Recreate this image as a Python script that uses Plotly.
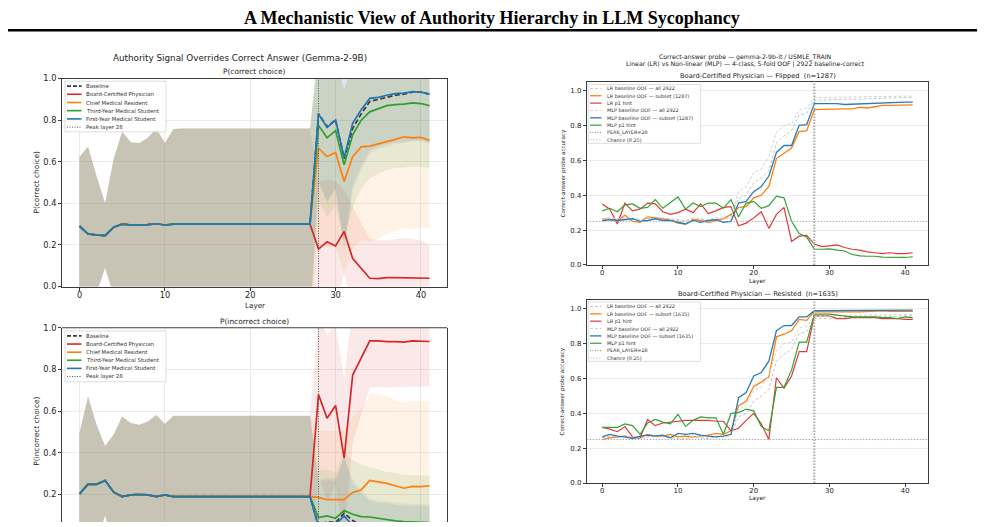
import plotly.graph_objects as go

W, H = 985, 527
LAYERS = list(range(42))
PEAK_LAYER = 28
CHANCE = 0.25

# ---------------- Left: authority signal (mean +/- std per layer) ----------------
SERIES_NAMES = ["Baseline", "Board-Certified Physician", "Chief Medical Resident",
                "Third-Year Medical Student", "First-Year Medical Student"]

# layers 0..27 are identical for all conditions
pre_correct_mean = [0.29, 0.253, 0.248, 0.245, 0.285, 0.30, 0.296, 0.295, 0.298, 0.302, 0.296, 0.30,
                    0.30, 0.30, 0.30, 0.30, 0.30, 0.30, 0.30, 0.30, 0.30, 0.30, 0.30, 0.30, 0.30, 0.30, 0.30, 0.30]
pre_correct_std = [0.333, 0.42, 0.282, 0.155, 0.33, 0.444, 0.398, 0.395, 0.417, 0.458, 0.394, 0.457,
                   0.46, 0.46, 0.46, 0.46, 0.46, 0.46, 0.46, 0.46, 0.46, 0.46, 0.46, 0.46, 0.46, 0.46, 0.46, 0.46]
pre_incorrect_mean = [0.203, 0.25, 0.249, 0.267, 0.211, 0.19, 0.198, 0.2, 0.198, 0.19, 0.198, 0.19,
                      0.19, 0.19, 0.19, 0.19, 0.19, 0.19, 0.19, 0.19, 0.19, 0.19, 0.19, 0.19, 0.19, 0.19, 0.19, 0.19]
pre_incorrect_std = [0.293, 0.42, 0.286, 0.166, 0.277, 0.384, 0.345, 0.335, 0.352, 0.392, 0.34, 0.388,
                     0.388, 0.388, 0.388, 0.388, 0.388, 0.388, 0.388, 0.388, 0.388, 0.388, 0.388, 0.388, 0.388, 0.388, 0.388, 0.388]

# layers 28..41, P(correct choice)
corr_base = [0.83, 0.77, 0.80, 0.615, 0.76, 0.83, 0.89, 0.90, 0.91, 0.92, 0.925, 0.935, 0.935, 0.925]
corr_board = [0.18, 0.215, 0.195, 0.265, 0.135, 0.09, 0.04, 0.038, 0.043, 0.043, 0.042, 0.04, 0.04, 0.04]
corr_chief = [0.665, 0.625, 0.645, 0.505, 0.625, 0.672, 0.675, 0.685, 0.695, 0.708, 0.72, 0.715, 0.717, 0.703]
corr_third = [0.775, 0.715, 0.75, 0.585, 0.73, 0.80, 0.84, 0.855, 0.87, 0.875, 0.877, 0.883, 0.88, 0.87]
corr_first = [0.83, 0.765, 0.80, 0.62, 0.785, 0.85, 0.905, 0.91, 0.92, 0.928, 0.93, 0.937, 0.935, 0.925]
corr_base_sd = [0.33, 0.36, 0.33, 0.42, 0.30, 0.27, 0.25, 0.24, 0.24, 0.235, 0.235, 0.235, 0.235, 0.235]
corr_board_sd = [0.32, 0.30, 0.31, 0.20, 0.25, 0.22, 0.19, 0.185, 0.18, 0.185, 0.19, 0.19, 0.18, 0.16]
corr_chief_sd = [0.45, 0.44, 0.45, 0.44, 0.44, 0.45, 0.46, 0.455, 0.44, 0.44, 0.44, 0.44, 0.435, 0.42]
corr_third_sd = [0.36, 0.38, 0.36, 0.36, 0.35, 0.33, 0.32, 0.31, 0.31, 0.305, 0.305, 0.305, 0.305, 0.30]
corr_first_sd = [0.33, 0.36, 0.33, 0.45, 0.30, 0.27, 0.25, 0.24, 0.235, 0.235, 0.235, 0.235, 0.235, 0.235]

# layers 28..41, P(incorrect choice)
inc_base = [0.05, 0.07, 0.065, 0.11, 0.075, 0.05, 0.04, 0.04, 0.038, 0.037, 0.036, 0.035, 0.035, 0.035]
inc_board = [0.679, 0.566, 0.627, 0.374, 0.773, 0.856, 0.937, 0.937, 0.933, 0.933, 0.931, 0.937, 0.937, 0.934]
inc_chief = [0.186, 0.175, 0.175, 0.175, 0.21, 0.222, 0.267, 0.261, 0.253, 0.242, 0.23, 0.239, 0.238, 0.242]
inc_third = [0.089, 0.097, 0.086, 0.123, 0.105, 0.094, 0.092, 0.086, 0.078, 0.073, 0.07, 0.068, 0.066, 0.065]
inc_first = [0.045, 0.06, 0.055, 0.097, 0.05, 0.035, 0.03, 0.03, 0.028, 0.027, 0.026, 0.025, 0.025, 0.025]
inc_base_sd = [0.22, 0.21, 0.21, 0.27, 0.20, 0.17, 0.14, 0.13, 0.13, 0.125, 0.12, 0.12, 0.12, 0.12]
inc_board_sd = [0.38, 0.40, 0.38, 0.38, 0.33, 0.27, 0.225, 0.22, 0.22, 0.22, 0.215, 0.22, 0.22, 0.215]
inc_chief_sd = [0.32, 0.33, 0.33, 0.33, 0.36, 0.39, 0.415, 0.42, 0.42, 0.41, 0.41, 0.41, 0.41, 0.405]
inc_third_sd = [0.23, 0.22, 0.22, 0.28, 0.26, 0.25, 0.24, 0.235, 0.23, 0.23, 0.225, 0.225, 0.225, 0.225]
inc_first_sd = [0.22, 0.21, 0.21, 0.28, 0.20, 0.17, 0.14, 0.13, 0.13, 0.125, 0.12, 0.12, 0.12, 0.12]

# ---------------- Right: correct-answer probe accuracy ----------------
lr_all = [0.26, 0.265, 0.26, 0.27, 0.26, 0.255, 0.265, 0.27, 0.265, 0.26, 0.255, 0.25, 0.265, 0.26, 0.255, 0.265, 0.27, 0.28,
          0.38, 0.40, 0.47, 0.50, 0.54, 0.70, 0.74, 0.77, 0.86, 0.87,
          0.945, 0.945, 0.948, 0.948, 0.95, 0.95, 0.952, 0.952, 0.955, 0.955, 0.958, 0.958, 0.96, 0.96]
mlp_all = [0.265, 0.27, 0.265, 0.265, 0.27, 0.26, 0.27, 0.265, 0.27, 0.265, 0.26, 0.255, 0.27, 0.265, 0.26, 0.27, 0.265, 0.27,
           0.42, 0.45, 0.53, 0.55, 0.62, 0.76, 0.80, 0.81, 0.89, 0.90,
           0.96, 0.96, 0.962, 0.962, 0.963, 0.963, 0.965, 0.965, 0.966, 0.966, 0.967, 0.967, 0.968, 0.968]

flip_lr_sub = [0.266, 0.26, 0.255, 0.285, 0.25, 0.245, 0.275, 0.27, 0.265, 0.255, 0.24, 0.235, 0.26, 0.255, 0.245, 0.255, 0.265, 0.29,
               0.33, 0.335, 0.385, 0.40, 0.45, 0.61, 0.64, 0.67, 0.765, 0.77,
               0.89, 0.892, 0.895, 0.893, 0.895, 0.895, 0.903, 0.90, 0.908, 0.915, 0.915, 0.915, 0.915, 0.918]
flip_lr_hint = [0.35, 0.32, 0.235, 0.355, 0.31, 0.32, 0.355, 0.35, 0.305, 0.29, 0.30, 0.32, 0.30, 0.35, 0.295, 0.31, 0.33, 0.335,
                0.225, 0.24, 0.27, 0.305, 0.21, 0.29, 0.33, 0.135, 0.165, 0.17,
                0.12, 0.105, 0.11, 0.115, 0.10, 0.09, 0.085, 0.075, 0.07, 0.065, 0.07, 0.065, 0.065, 0.07]
flip_mlp_sub = [0.253, 0.26, 0.255, 0.26, 0.265, 0.25, 0.255, 0.265, 0.255, 0.255, 0.245, 0.235, 0.255, 0.245, 0.255, 0.26, 0.245, 0.25,
                0.355, 0.365, 0.42, 0.45, 0.51, 0.645, 0.685, 0.685, 0.80, 0.805,
                0.925, 0.925, 0.925, 0.925, 0.92, 0.922, 0.925, 0.925, 0.928, 0.928, 0.93, 0.932, 0.933, 0.933]
flip_mlp_hint = [0.31, 0.325, 0.305, 0.345, 0.35, 0.325, 0.33, 0.375, 0.325, 0.36, 0.39, 0.32, 0.355, 0.335, 0.355, 0.355, 0.325, 0.375,
                 0.275, 0.355, 0.365, 0.325, 0.34, 0.395, 0.385, 0.25, 0.18, 0.16,
                 0.09, 0.09, 0.092, 0.085, 0.08, 0.06, 0.052, 0.05, 0.05, 0.045, 0.043, 0.045, 0.043, 0.047]

res_lr_sub = [0.25, 0.26, 0.265, 0.27, 0.26, 0.26, 0.28, 0.27, 0.27, 0.28, 0.265, 0.27, 0.265, 0.27, 0.275, 0.285, 0.28, 0.30,
              0.445, 0.47, 0.555, 0.58, 0.61, 0.84, 0.855, 0.875, 0.94, 0.935,
              0.985, 0.983, 0.984, 0.985, 0.985, 0.984, 0.983, 0.984, 0.985, 0.99, 0.986, 0.985, 0.985, 0.986]
res_lr_hint = [0.32, 0.31, 0.295, 0.325, 0.265, 0.26, 0.365, 0.33, 0.345, 0.35, 0.355, 0.36, 0.36, 0.36, 0.36, 0.355, 0.355, 0.30,
               0.315, 0.36, 0.40, 0.34, 0.25, 0.605, 0.545, 0.615, 0.755, 0.755,
               0.96, 0.96, 0.96, 0.945, 0.945, 0.95, 0.95, 0.95, 0.95, 0.945, 0.945, 0.945, 0.94, 0.94]
res_mlp_sub = [0.265, 0.28, 0.27, 0.265, 0.255, 0.27, 0.275, 0.27, 0.275, 0.26, 0.285, 0.28, 0.285, 0.275, 0.27, 0.265, 0.27, 0.28,
               0.49, 0.52, 0.615, 0.635, 0.70, 0.875, 0.905, 0.905, 0.955, 0.955,
               0.99, 0.99, 0.99, 0.99, 0.99, 0.99, 0.99, 0.992, 0.992, 0.992, 0.993, 0.993, 0.993, 0.993]
res_mlp_hint = [0.32, 0.32, 0.32, 0.34, 0.33, 0.28, 0.345, 0.365, 0.35, 0.34, 0.395, 0.325, 0.36, 0.38, 0.375, 0.375, 0.28, 0.40,
                0.405, 0.425, 0.415, 0.325, 0.30, 0.55, 0.55, 0.65, 0.81, 0.81,
                0.97, 0.97, 0.97, 0.965, 0.96, 0.955, 0.955, 0.955, 0.955, 0.95, 0.95, 0.945, 0.955, 0.95]

LEFT_TICKS_Y = [0.0, 0.2, 0.4, 0.6, 0.8, 1.0]
X_TICKS = [0, 10, 20, 30, 40]

# ---------------- styling ----------------
FONT = "DejaVu Sans"
C_RED, C_ORA, C_GRN, C_BLU = "#d62728", "#ff7f0e", "#2ca02c", "#1f77b4"
LEFT_COLORS = ["#3a3a3a", C_RED, C_ORA, C_GRN, C_BLU]
BAND_RGB = ["128,128,128", "214,39,40", "255,127,14", "44,160,44", "31,119,180"]


def px(x):
    return x / W


def py(y):
    return 1 - y / H


fig = go.Figure()

corr_means = [corr_base, corr_board, corr_chief, corr_third, corr_first]
corr_sds = [corr_base_sd, corr_board_sd, corr_chief_sd, corr_third_sd, corr_first_sd]
inc_means = [inc_base, inc_board, inc_chief, inc_third, inc_first]
inc_sds = [inc_base_sd, inc_board_sd, inc_chief_sd, inc_third_sd, inc_first_sd]


def add_left_panel(pre_m, pre_s, means, sds, xa, ya):
    full_m = [pre_m + m for m in means]
    full_s = [pre_s + s for s in sds]
    for i in range(5):
        up = [m + s for m, s in zip(full_m[i], full_s[i])]
        lo = [m - s for m, s in zip(full_m[i], full_s[i])]
        fig.add_trace(go.Scatter(x=LAYERS, y=up, mode="lines", line=dict(width=0),
                                 xaxis=xa, yaxis=ya, showlegend=False, hoverinfo="skip"))
        fig.add_trace(go.Scatter(x=LAYERS, y=lo, mode="lines", line=dict(width=0),
                                 fill="tonexty", fillcolor=f"rgba({BAND_RGB[i]},0.1)",
                                 xaxis=xa, yaxis=ya, showlegend=False, hoverinfo="skip"))
    for i in range(5):
        fig.add_trace(go.Scatter(x=LAYERS, y=full_m[i], mode="lines", name=SERIES_NAMES[i],
                                 line=dict(color=LEFT_COLORS[i], width=1.7,
                                           dash="5px,2.5px" if i == 0 else "solid"),
                                 xaxis=xa, yaxis=ya, showlegend=False))


add_left_panel(pre_correct_mean, pre_correct_std, corr_means, corr_sds, "x", "y")
add_left_panel(pre_incorrect_mean, pre_incorrect_std, inc_means, inc_sds, "x2", "y2")

RIGHT_STYLE = [
    ("LR baseline OOF — all 2922", "#c4c4c4", "3px,2px", 1.0),
    ("LR baseline OOF — subset ({n})", C_ORA, "solid", 1.3),
    ("LR p1 hint", "#e0393b", "solid", 1.2),
    ("MLP baseline OOF — all 2922", "#d0d0d0", "3px,2px", 1.0),
    ("MLP baseline OOF — subset ({n})", "#2b7bba", "solid", 1.3),
    ("MLP p1 hint", "#33a233", "solid", 1.2),
]


def add_right_panel(series, n, xa, ya):
    for (name, col, dash, w), ys in zip(RIGHT_STYLE, series):
        fig.add_trace(go.Scatter(x=LAYERS, y=ys, mode="lines", name=name.format(n=n),
                                 line=dict(color=col, width=w, dash=dash),
                                 xaxis=xa, yaxis=ya, showlegend=False))


add_right_panel([lr_all, flip_lr_sub, flip_lr_hint, mlp_all, flip_mlp_sub, flip_mlp_hint], 1287, "x3", "y3")
add_right_panel([lr_all, res_lr_sub, res_lr_hint, mlp_all, res_mlp_sub, res_mlp_hint], 1635, "x4", "y4")

# ---------------- axes ----------------
LINE_C = "#3c3c3c"
GRID_C = "#ebebeb"


def xax(dom, anchor, size, labels=True, line=True, grid=True):
    return dict(domain=dom, anchor=anchor, range=[-2.05, 43.05], tickvals=X_TICKS,
                ticks="outside" if labels else "", ticklen=3, tickcolor=LINE_C,
                showticklabels=labels, tickfont=dict(family=FONT, size=size, color="#222"),
                ticklabelstandoff=-2,
                showline=line, mirror=line, linecolor=LINE_C, linewidth=1,
                showgrid=grid, gridcolor=GRID_C, gridwidth=0.8, zeroline=False)


def yax(dom, anchor, rng, size, tv):
    return dict(domain=dom, anchor=anchor, range=rng, tickvals=tv, tickformat=".1f",
                ticks="outside", ticklen=3, tickcolor=LINE_C,
                tickfont=dict(family=FONT, size=size, color="#222"),
                showline=True, mirror=True, linecolor=LINE_C, linewidth=1,
                showgrid=True, gridcolor=GRID_C, gridwidth=0.8, zeroline=False)


LX = [px(62), px(447)]
RX = [px(586.7), px(928.3)]

fig.update_layout(
    xaxis=xax(LX, "y", 8.2),
    yaxis=yax([py(287), py(75)], "x", [0, 1.0], 8.2, LEFT_TICKS_Y),
    xaxis2=xax(LX, "y2", 8.2, labels=False, line=False),
    yaxis2=yax([0, py(329)], "x2", [0.068, 1.0], 8.2, LEFT_TICKS_Y),
    xaxis3=xax(RX, "y3", 6.9, grid=False),
    yaxis3=yax([py(265), py(78.3)], "x3", [0, 1.05], 6.9, LEFT_TICKS_Y),
    xaxis4=xax(RX, "y4", 6.9, grid=False),
    yaxis4=yax([py(487.3), py(301)], "x4", [0, 1.05], 6.9, LEFT_TICKS_Y),
)

shapes = []
annotations = []

# page heading rule
shapes.append(dict(type="line", xref="paper", yref="paper", x0=px(8), x1=px(977), y0=py(25.8), y1=py(25.8),
                   line=dict(color="black", width=2.5)))
annotations.append(dict(text="A Mechanistic View of Authority Hierarchy in LLM Sycophancy",
                        x=px(492), y=py(13), xref="paper", yref="paper", showarrow=False,
                        font=dict(family="Liberation Serif", size=18, color="black", weight="bold"),
                        xanchor="center", yanchor="middle"))

# top spine of the cut-off bottom-left panel
shapes.append(dict(type="line", xref="x2 domain", yref="y2 domain", x0=0, x1=1, y0=1, y1=1,
                   line=dict(color=LINE_C, width=1)))

# peak-layer lines
shapes.append(dict(type="line", xref="x", yref="y domain", x0=PEAK_LAYER, x1=PEAK_LAYER, y0=0, y1=1,
                   line=dict(color="#555", width=1, dash="1px,1.5px")))
shapes.append(dict(type="line", xref="x2", yref="y2 domain", x0=PEAK_LAYER, x1=PEAK_LAYER, y0=0, y1=1,
                   line=dict(color="#555", width=1, dash="1px,1.5px")))
for xa, ya in (("x3", "y3"), ("x4", "y4")):
    shapes.append(dict(type="line", xref=xa, yref=f"{ya} domain", x0=PEAK_LAYER, x1=PEAK_LAYER, y0=0, y1=1,
                       line=dict(color="#a8a8a8", width=2, dash="1.5px,1.5px")))
    shapes.append(dict(type="line", xref=f"{xa} domain", yref=ya, x0=0, x1=1, y0=CHANCE, y1=CHANCE,
                       line=dict(color="#aaaaaa", width=1, dash="1.5px,1.5px")))


def text(t, x, y, size, angle=0, color="#222", xanchor="center"):
    annotations.append(dict(text=t, x=px(x), y=py(y), xref="paper", yref="paper", showarrow=False,
                            font=dict(family=FONT, size=size, color=color), textangle=angle,
                            xanchor=xanchor, yanchor="middle"))


# left titles
text("Authority Signal Overrides Correct Answer (Gemma-2-9B)", 240, 54.5, 8.8)
text("P(correct choice)", 254.5, 67.8, 7.4)
text("Layer", 254.5, 306.5, 7.2)
text("P(correct choice)", 37, 181, 7.4, angle=-90)
text("P(incorrect choice)", 254.5, 322.5, 7.4)
text("P(incorrect choice)", 37, 435, 7.4, angle=-90)

# right titles
text("Correct-answer probe — gemma-2-9b-it / USMLE_TRAIN", 745, 52.5, 6.2)
text("Linear (LR) vs Non-linear (MLP) — 4-class, 5-fold OOF | 2922 baseline-correct", 745, 60.3, 6.2)
text("Board-Certified Physician — Flipped  (n=1287)", 757.5, 72.3, 6.7)
text("Layer", 757.5, 282, 5.9)
text("Correct-answer probe accuracy", 563, 171.6, 5.6, angle=-90)
text("Board-Certified Physician — Resisted  (n=1635)", 757.5, 295, 6.7)
text("Layer", 757.5, 503.5, 5.9)
text("Correct-answer probe accuracy", 563, 394, 5.6, angle=-90)


def manual_legend(box, rows, entries, x_line, x_text, size):
    x0, y0, x1, y1 = box
    shapes.append(dict(type="rect", xref="paper", yref="paper", x0=px(x0), x1=px(x1), y0=py(y1), y1=py(y0),
                       fillcolor="rgba(255,255,255,0.85)", line=dict(color="#d6d6d6", width=0.8), layer="above"))
    for (label, col, dash, w), yy in zip(entries, rows):
        shapes.append(dict(type="line", xref="paper", yref="paper", x0=px(x_line[0]), x1=px(x_line[1]),
                           y0=py(yy), y1=py(yy), line=dict(color=col, width=w, dash=dash), layer="above"))
        text(label, x_text, yy, size, color="#333", xanchor="left")


left_entries = [(SERIES_NAMES[i], LEFT_COLORS[i], "4px,2px" if i == 0 else "solid", 1.6) for i in range(5)]
left_entries.append(("Peak layer 28", "#555", "1px,1.5px", 1))
manual_legend((65, 77.7, 166, 129.3), [82.7, 91.0, 99.4, 107.7, 116.1, 124.5], left_entries, (67, 81.5), 84.3, 5.4)
manual_legend((65, 332.3, 166, 384), [337.3, 345.6, 353.9, 362.1, 370.4, 378.7], left_entries, (67, 81.5), 84.3, 5.4)


def right_entries(n):
    e = [(name.format(n=n), col, dash, w) for name, col, dash, w in RIGHT_STYLE]
    e.append(("PEAK_LAYER=28", "#888", "1px,1.5px", 1))
    e.append(("Chance (0.25)", "#c8c8c8", "1.5px,1.5px", 1))
    return e


manual_legend((588.3, 81, 700.7, 141), [85, 92.5, 100, 107.5, 115, 122.5, 130, 137.3],
              right_entries(1287), (590, 601.5), 605, 4.9)
manual_legend((588.3, 302.7, 700.7, 363.3), [307.3, 314.8, 322.3, 329.8, 337.3, 344.8, 352.3, 359.8],
              right_entries(1635), (590, 601.5), 605, 4.9)

fig.update_layout(
    width=W, height=H, margin=dict(l=0, r=0, t=0, b=0),
    paper_bgcolor="white", plot_bgcolor="white",
    showlegend=False, shapes=shapes, annotations=annotations,
    font=dict(family=FONT),
)

fig.write_html("out.html")
